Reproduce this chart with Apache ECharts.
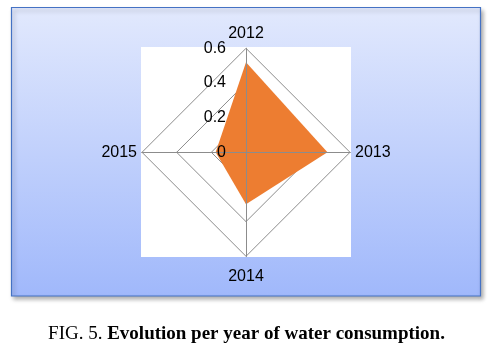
<!DOCTYPE html>
<html><head><meta charset="utf-8">
<script src="https://cdn.jsdelivr.net/npm/echarts@6/dist/echarts.min.js"></script>
<style>html,body{margin:0;padding:0;background:#fff}#c{width:493px;height:349px}</style>
</head><body><div id="c"></div>
<script>
// Data (reference order, clockwise from top)
var years = ['2012', '2013', '2014', '2015'];
var consumption = [0.52, 0.47, 0.30, 0.175];
var tickMax = 0.6;
var tickCount = 3; // rings at 0.2, 0.4, 0.6

// ECharts radar runs counter-clockwise: keep first, reverse the rest
var order = [0, 3, 2, 1];
function makeIndicators(withLabel) {
  return order.map(function (i, k) {
    var ind = { name: years[i], min: 0, max: tickMax };
    if (withLabel && k === 0) ind.axisLabel = {
      show: true, showMinLabel: true, showMaxLabel: true,
      formatter: function (v) { return String(Math.round(v * 10) / 10); }
    };
    return ind;
  });
}
var values = order.map(function (i) { return consumption[i]; });
var posStyle = { '2012': 't', '2013': 'h', '2014': 'b', '2015': 'h' };

var gridColor = '#8c8c8c';
var labelFont = { color: '#000', fontFamily: 'Liberation Sans', fontSize: 16 };

var chart = echarts.init(document.getElementById('c'), null, { renderer: 'canvas' });
chart.setOption({
  animation: false,
  graphic: [
    { type: 'rect', z: -20, shape: { x: 11.5, y: 7.5, width: 469, height: 288.5 },
      style: {
        fill: new echarts.graphic.LinearGradient(0, 0, 0, 1, [
          { offset: 0, color: '#E2E9FD' }, { offset: 1, color: '#A0B8FB' }]),
        stroke: '#4472C4', lineWidth: 1.2,
        shadowBlur: 4, shadowOffsetX: 2, shadowOffsetY: 3, shadowColor: 'rgba(0,0,0,0.3)'
      } },
    { type: 'rect', z: -19, shape: { x: 141, y: 47, width: 210, height: 210 },
      style: { fill: '#ffffff' } }
  ],
  title: {
    text: '{n|FIG. 5. }{b|Evolution per year of water consumption.}',
    left: 'center', top: 320,
    textStyle: {
      fontWeight: 'normal',
      rich: {
        n: { fontFamily: 'Liberation Serif', fontSize: 19, fontWeight: 'normal', color: '#000' },
        b: { fontFamily: 'Liberation Serif', fontSize: 19, fontWeight: 'bold', color: '#000' }
      }
    }
  },
  radar: [{
    z: 0,
    center: [246, 152.3],
    radius: 104,
    shape: 'polygon',
    splitNumber: tickCount,
    startAngle: 90,
    indicator: makeIndicators(false),
    nameGap: 5,
    axisName: {
      formatter: function (name) { return '{' + posStyle[name] + '|' + name + '}'; },
      color: '#000', fontFamily: 'Liberation Sans', fontSize: 16,
      rich: {
        t: Object.assign({ padding: [0, 0, 2, 0] }, labelFont),
        b: Object.assign({ padding: [7, 0, 0, 0] }, labelFont),
        h: Object.assign({}, labelFont)
      }
    },
    axisLine: { lineStyle: { color: gridColor, width: 1 } },
    splitLine: { lineStyle: { color: gridColor, width: 1 } },
    splitArea: { show: false },
    axisTick: { show: false },
    axisLabel: { show: false }
  }, {
    z: 5,
    center: [246, 152.3],
    radius: 104,
    shape: 'polygon',
    splitNumber: tickCount,
    startAngle: 90,
    indicator: makeIndicators(true),
    axisName: { show: false },
    axisLine: { lineStyle: { color: gridColor, width: 1 } },
    splitLine: { show: false },
    splitArea: { show: false },
    axisTick: { show: false },
    axisLabel: Object.assign({ show: false, margin: 20 }, labelFont)
  }],
  series: [{
    type: 'radar',
    radarIndex: 0,
    z: 2,
    symbol: 'none',
    lineStyle: { width: 0, color: '#ED7D31' },
    areaStyle: { color: '#ED7D31', opacity: 1 },
    itemStyle: { color: '#ED7D31' },
    data: [{ value: values, name: 'Consumption' }]
  }]
});
</script></body></html>
